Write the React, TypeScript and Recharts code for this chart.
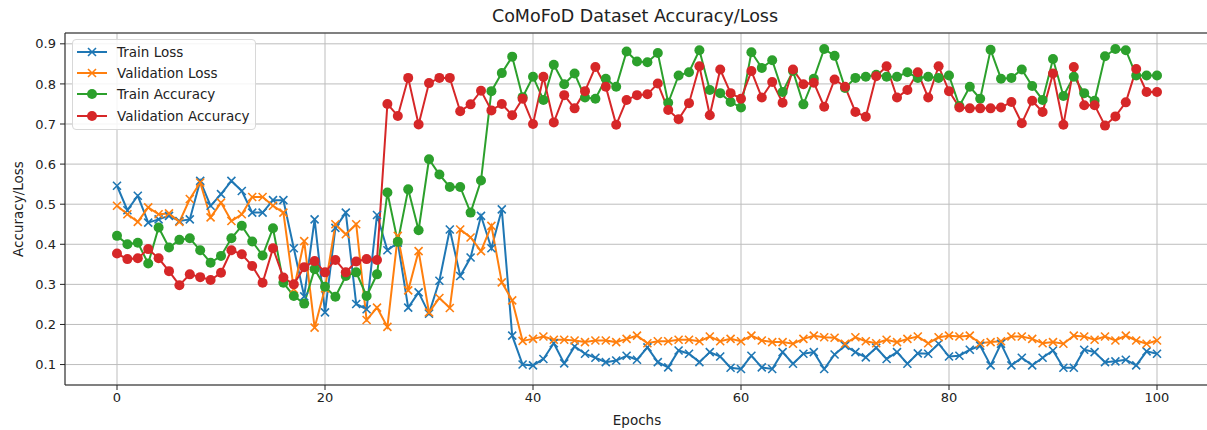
import { LineChart, Line, XAxis, YAxis, CartesianGrid, Legend, ReferenceLine } from "recharts"

const trainLoss = [
  0.546, 0.485, 0.521, 0.454, 0.462, 0.471, 0.458, 0.462, 0.558, 0.496,
  0.525, 0.558, 0.533, 0.479, 0.479, 0.51, 0.51, 0.39, 0.27, 0.462,
  0.23, 0.441, 0.479, 0.251, 0.238, 0.473, 0.385, 0.404, 0.242, 0.28,
  0.227, 0.309, 0.437, 0.321, 0.367, 0.471, 0.39, 0.487, 0.172, 0.1,
  0.098, 0.114, 0.153, 0.103, 0.145, 0.127, 0.117, 0.106, 0.11, 0.122,
  0.112, 0.143, 0.106, 0.093, 0.135, 0.127, 0.106, 0.131, 0.12, 0.092,
  0.089, 0.122, 0.093, 0.089, 0.131, 0.102, 0.127, 0.131, 0.089, 0.125,
  0.147, 0.131, 0.118, 0.142, 0.114, 0.131, 0.102, 0.128, 0.127, 0.152,
  0.12, 0.122, 0.137, 0.147, 0.098, 0.152, 0.098, 0.117, 0.098, 0.117,
  0.135, 0.092, 0.092, 0.137, 0.131, 0.106, 0.108, 0.112, 0.098, 0.133,
  0.127,
]

const valLoss = [
  0.496, 0.475, 0.456, 0.492, 0.475, 0.477, 0.456, 0.513, 0.554, 0.467,
  0.504, 0.458, 0.475, 0.518, 0.518, 0.496, 0.479, 0.288, 0.408, 0.192,
  0.29, 0.45, 0.425, 0.45, 0.211, 0.242, 0.194, 0.421, 0.285, 0.383,
  0.23, 0.266, 0.241, 0.437, 0.417, 0.383, 0.446, 0.305, 0.26, 0.159,
  0.164, 0.17, 0.162, 0.162, 0.16, 0.156, 0.16, 0.16, 0.156, 0.164,
  0.172, 0.153, 0.158, 0.158, 0.162, 0.162, 0.158, 0.17, 0.158, 0.164,
  0.158, 0.172, 0.16, 0.156, 0.156, 0.152, 0.164, 0.172, 0.168, 0.167,
  0.152, 0.168, 0.158, 0.153, 0.162, 0.156, 0.164, 0.17, 0.153, 0.168,
  0.172, 0.17, 0.172, 0.153, 0.156, 0.158, 0.17, 0.17, 0.164, 0.153,
  0.156, 0.152, 0.172, 0.17, 0.162, 0.17, 0.16, 0.172, 0.16, 0.152,
  0.16,
]

const trainAcc = [
  0.421, 0.4, 0.404, 0.352, 0.442, 0.392, 0.411, 0.415, 0.385, 0.354,
  0.371, 0.415, 0.446, 0.407, 0.372, 0.44, 0.304, 0.271, 0.252, 0.338,
  0.294, 0.269, 0.321, 0.33, 0.271, 0.325, 0.529, 0.406, 0.537, 0.435,
  0.612, 0.574, 0.543, 0.543, 0.479, 0.559, 0.782, 0.827, 0.868, 0.767,
  0.818, 0.76, 0.848, 0.799, 0.826, 0.766, 0.763, 0.813, 0.793, 0.881,
  0.856, 0.854, 0.877, 0.753, 0.821, 0.829, 0.884, 0.785, 0.777, 0.755,
  0.741, 0.879, 0.84, 0.859, 0.78, 0.832, 0.749, 0.813, 0.887, 0.87,
  0.79, 0.815, 0.818, 0.823, 0.818, 0.818, 0.829, 0.815, 0.818, 0.815,
  0.821, 0.745, 0.793, 0.763, 0.885, 0.813, 0.815, 0.836, 0.795, 0.76,
  0.862, 0.77, 0.818, 0.777, 0.758, 0.869, 0.887, 0.884, 0.821, 0.821,
  0.821,
]

const valAcc = [
  0.377, 0.363, 0.365, 0.388, 0.365, 0.333, 0.298, 0.325, 0.318, 0.311,
  0.329, 0.385, 0.375, 0.346, 0.304, 0.39, 0.317, 0.3, 0.343, 0.358,
  0.33, 0.361, 0.33, 0.357, 0.363, 0.361, 0.75, 0.72, 0.815, 0.699,
  0.802, 0.815, 0.815, 0.732, 0.749, 0.783, 0.734, 0.75, 0.722, 0.763,
  0.7, 0.818, 0.704, 0.772, 0.739, 0.782, 0.842, 0.793, 0.698, 0.76,
  0.772, 0.774, 0.801, 0.735, 0.712, 0.752, 0.844, 0.722, 0.836, 0.777,
  0.763, 0.832, 0.766, 0.805, 0.753, 0.836, 0.799, 0.803, 0.743, 0.811,
  0.793, 0.73, 0.718, 0.819, 0.844, 0.766, 0.785, 0.829, 0.766, 0.844,
  0.782, 0.741, 0.739, 0.739, 0.739, 0.741, 0.755, 0.702, 0.758, 0.73,
  0.826, 0.698, 0.842, 0.747, 0.747, 0.696, 0.719, 0.754, 0.837, 0.78,
  0.78,
]

const xTicks = [0, 20, 40, 60, 80, 100]
const yTicks = [0.1, 0.2, 0.3, 0.4, 0.5, 0.6, 0.7, 0.8, 0.9]

const seriesNames = ["Train Loss", "Validation Loss", "Train Accuracy", "Validation Accuracy"]
const seriesKeys = ["trainLoss", "valLoss", "trainAcc", "valAcc"]
const colors = ["#1f77b4", "#ff7f0e", "#2ca02c", "#d62728"]
const markers = ["x", "x", "o", "o"]

const data = trainLoss.map((v, i) => ({
  epoch: i,
  trainLoss: v,
  valLoss: valLoss[i],
  trainAcc: trainAcc[i],
  valAcc: valAcc[i],
}))

const FONT = "DejaVu Sans, sans-serif"
const INK = "#222"

function xDot(color: string) {
  return (p: any) => {
    const { cx, cy, index } = p
    if (cx == null || cy == null) return <g key={`x-${index}`} />
    const s = 4
    return (
      <path
        key={`x-${index}`}
        d={`M${cx - s},${cy - s}L${cx + s},${cy + s}M${cx - s},${cy + s}L${cx + s},${cy - s}`}
        stroke={color}
        strokeWidth={1.6}
        fill="none"
      />
    )
  }
}

function LegendBox() {
  return (
    <div
      style={{
        border: "1px solid #d8d8d8",
        borderRadius: 4,
        background: "rgba(255,255,255,0.85)",
        padding: "1px 5px 2px 4px",
        fontFamily: FONT,
        fontSize: 13.5,
        color: INK,
      }}
    >
      {seriesNames.map((n, i) => (
        <div key={n} style={{ display: "flex", alignItems: "center", height: 21.4, whiteSpace: "nowrap" }}>
          <svg width={30} height={12} style={{ flex: "none" }}>
            <line x1={0} x2={30} y1={6} y2={6} stroke={colors[i]} strokeWidth={2} />
            {markers[i] === "o" ? (
              <circle cx={15} cy={6} r={5} fill={colors[i]} />
            ) : (
              <path d="M11,2L19,10M11,10L19,2" stroke={colors[i]} strokeWidth={1.6} />
            )}
          </svg>
          <span style={{ marginLeft: 10 }}>{n}</span>
        </div>
      ))}
    </div>
  )
}

export default function App() {
  return (
    <div
      style={{
        position: "absolute",
        left: 0,
        top: 0,
        width: 1207,
        height: 430,
        overflow: "hidden",
        background: "#fff",
      }}
    >
      <div
        style={{
          position: "absolute",
          top: 6,
          left: 63,
          width: 1144,
          textAlign: "center",
          fontFamily: FONT,
          fontSize: 17.5,
          lineHeight: "21px",
          color: INK,
          zIndex: 2,
        }}
      >
        CoMoFoD Dataset Accuracy/Loss
      </div>
      <LineChart
        width={1212}
        height={430}
        data={data}
        margin={{ top: 33, right: 3, bottom: 15, left: 0 }}
        style={{ fontFamily: FONT }}
      >
        <CartesianGrid stroke="#bdbdbd" strokeWidth={1} />
        <XAxis
          dataKey="epoch"
          type="number"
          domain={[-5, 105]}
          allowDataOverflow
          ticks={xTicks}
          interval={0}
          height={30}
          tickSize={5}
          tickMargin={3}
          tick={{ fill: INK, fontSize: 13, fontFamily: FONT }}
          tickLine={{ stroke: INK }}
          axisLine={{ stroke: INK }}
          label={{ value: "Epochs", position: "bottom", offset: 0, fill: INK, fontSize: 13.5, fontFamily: FONT }}
        />
        <YAxis
          type="number"
          domain={[0.049, 0.927]}
          allowDataOverflow
          ticks={yTicks}
          interval={0}
          width={65}
          tickSize={5}
          tickMargin={4}
          tickFormatter={(v: number) => v.toFixed(1)}
          tick={{ fill: INK, fontSize: 13, fontFamily: FONT }}
          tickLine={{ stroke: INK }}
          axisLine={{ stroke: INK }}
          label={{
            value: "Accuracy/Loss",
            angle: -90,
            position: "insideLeft",
            offset: 18,
            textAnchor: "middle",
            fill: INK,
            fontSize: 13.5,
            fontFamily: FONT,
          }}
        />
        <ReferenceLine y={0.927} stroke={INK} strokeWidth={1} />
        {seriesKeys.map((k, i) => (
          <Line
            key={k}
            dataKey={k}
            name={seriesNames[i]}
            type="linear"
            stroke={colors[i]}
            strokeWidth={2}
            isAnimationActive={false}
            activeDot={false}
            dot={markers[i] === "o" ? { r: 5, fill: colors[i], stroke: colors[i], strokeWidth: 0 } : xDot(colors[i])}
          />
        ))}
        <Legend
          layout="vertical"
          align="center"
          verticalAlign="middle"
          content={() => <LegendBox />}
          wrapperStyle={{ left: 72, top: 39, width: "auto", height: "auto" }}
        />
      </LineChart>
    </div>
  )
}
